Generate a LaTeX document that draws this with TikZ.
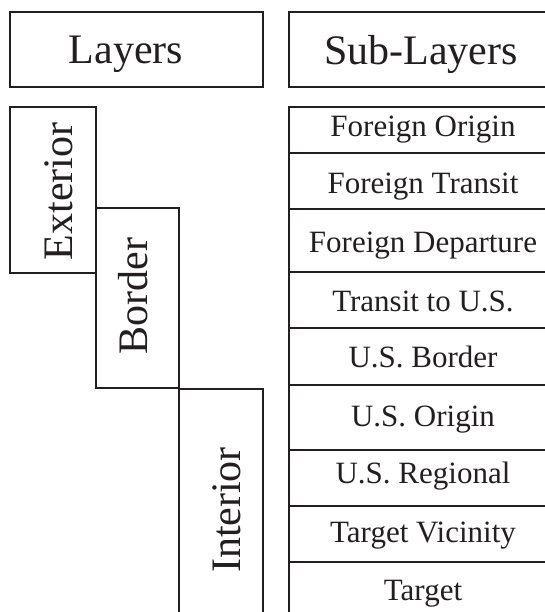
\documentclass[tikz,border=0pt]{standalone}
\usepackage{fontspec}
\setmainfont{Liberation Serif}
\definecolor{ink}{HTML}{231F20}
\begin{document}
\begin{tikzpicture}[x=1pt,y=-1pt,
  boxline/.style={draw=ink,line width=1.8pt},
  hdr/.style={inner sep=0pt,anchor=base,text=ink,font=\fontsize{42}{48}\selectfont},
  vlab/.style={inner sep=0pt,anchor=base,rotate=90,text=ink,font=\fontsize{42}{48}\selectfont},
  sub/.style={inner sep=0pt,anchor=base,text=ink,font=\fontsize{31}{36}\selectfont}]
\useasboundingbox (0,0) rectangle (545,612);
\clip (0,0) rectangle (545,612);
% header boxes
\draw[boxline] (10,12) rectangle (263,87);
\draw[boxline] (289,12) rectangle (557,87);
\node[hdr] (layers) at (126,64) {Layers};
\node[hdr] (sublayers) at (421,65) {Sub-Layers};
% layer boxes
\draw[boxline] (10,107) rectangle (96,273);
\draw[boxline] (96,208) rectangle (179,388);
\draw[boxline] (179,389) rectangle (263,640);
\node[vlab] (exterior) at (72,191.5) {Exterior};
\node[vlab] (border) at (147,296) {Border};
\node[vlab] (interior) at (240,510) {Interior};
% sub-layer rows
\foreach \a/\b in {107/153,153/209,209/272,272/328,328/385,385/450,450/506,506/562,562/640}
  \draw[boxline] (289,\a) rectangle (557,\b);
\node[sub] (s1) at (423,137) {Foreign Origin};
\node[sub] (s2) at (423,194) {Foreign Transit};
\node[sub] (s3) at (423,252) {Foreign Departure};
\node[sub] (s4) at (423,311) {Transit to U.S.};
\node[sub] (s5) at (423,367) {U.S. Border};
\node[sub] (s6) at (423,426) {U.S. Origin};
\node[sub] (s7) at (423,483) {U.S. Regional};
\node[sub] (s8) at (423,542) {Target Vicinity};
\node[sub] (s9) at (423,600) {Target};
\end{tikzpicture}
\end{document}
